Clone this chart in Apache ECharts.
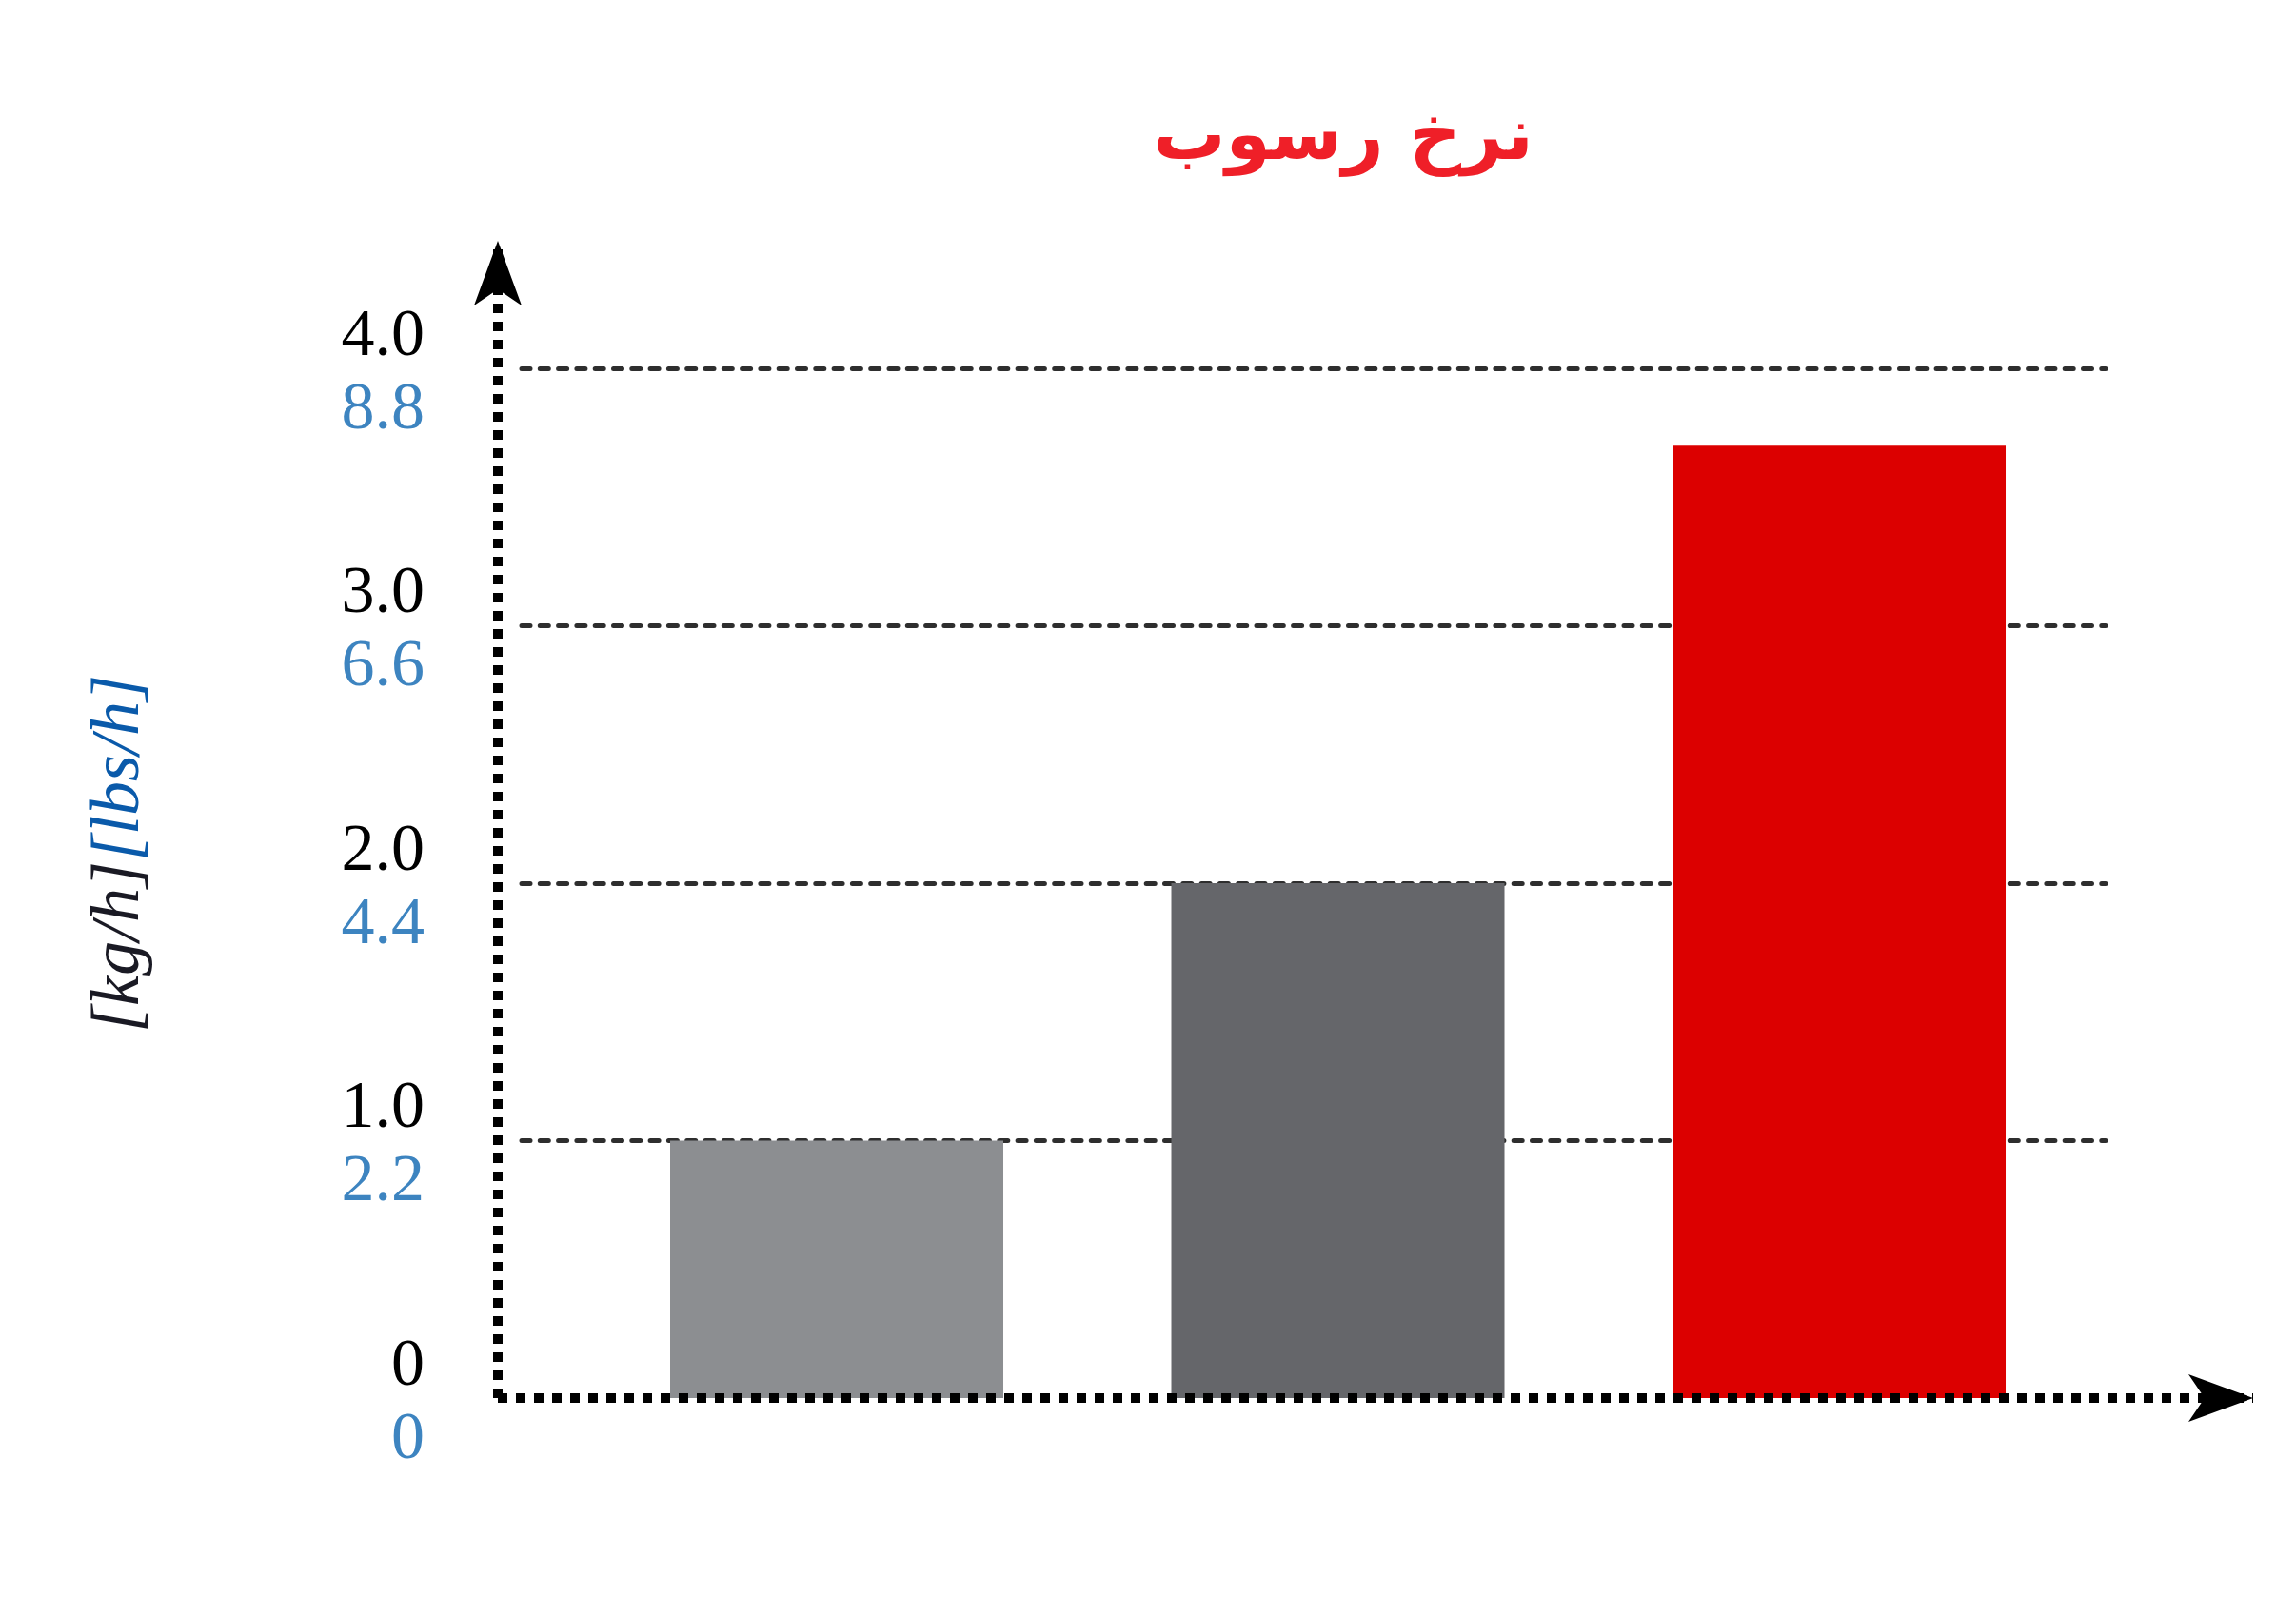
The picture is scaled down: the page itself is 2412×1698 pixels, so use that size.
<!DOCTYPE html>
<html><head><meta charset="utf-8">
<script src="https://cdn.jsdelivr.net/npm/echarts@6/dist/echarts.min.js"></script>
<style>html,body{margin:0;padding:0;background:#fff}#c{width:2412px;height:1698px}</style>
</head><body><div id="c"></div>
<script>
const titleText = 'نرخ رسوب';
const categories = ['', '', ''];
const values = [1.0, 2.0, 3.7];
const barColors = ['#8c8e91', '#65666a', '#dc0000'];
const kgTicks = ['0', '1.0', '2.0', '3.0', '4.0'];
const lbsTicks = ['0', '2.2', '4.4', '6.6', '8.8'];
const unitKg = '[kg/h]';
const unitLbs = '[lbs/h]';

const chart = echarts.init(document.getElementById('c'), null, {renderer: 'canvas'});
const seriesData = values.map((v, i) => ({name: categories[i], value: [i + 1, v], itemStyle: {color: barColors[i]}}));
const dotted = {color: '#000', width: 10, type: [10, 9], cap: 'butt'};

chart.setOption({
  backgroundColor: '#fff',
  animation: false,
  title: {
    text: titleText, left: 1406, top: 104, textAlign: 'center',
    textStyle: {fontFamily: 'DejaVu Sans', fontWeight: 'bold', fontSize: 76, color: '#ef1f28'}
  },
  grid: [
    {left: 548, right: 200, top: 387, bottom: 229},
    {left: 523, right: 45, top: 253, bottom: 229}
  ],
  xAxis: [
    {gridIndex: 0, type: 'value', min: 0.3713, max: 3.5318,
     axisLine: {show: false}, axisTick: {show: false}, axisLabel: {show: false}, splitLine: {show: false}},
    {gridIndex: 1, type: 'value', min: 0, max: 1, z: 10,
     axisLine: {show: true, symbol: ['none', 'arrow'], symbolSize: [37.5, 68], lineStyle: dotted},
     axisTick: {show: false}, axisLabel: {show: false}, splitLine: {show: false}}
  ],
  yAxis: [
    {gridIndex: 0, type: 'value', min: 0, max: 4, interval: 1,
     axisLine: {show: false}, axisTick: {show: false},
     splitLine: {show: true, showMinLine: false, lineStyle: {color: '#2e2e2e', width: 5, type: [9, 10.3], cap: 'round'}},
     axisLabel: {
       margin: 102,
       padding: [12, 0, 0, 0],
       formatter: v => '{a|' + kgTicks[Math.round(v)] + '}\n{b|' + lbsTicks[Math.round(v)] + '}',
       rich: {
         a: {fontFamily: 'Liberation Serif', fontSize: 70, lineHeight: 77, color: '#000', align: 'right'},
         b: {fontFamily: 'Liberation Serif', fontSize: 70, lineHeight: 77, color: '#3d84c0', align: 'right'}
       }
     }},
    {gridIndex: 1, type: 'value', min: 0, max: 1, z: 10,
     axisLine: {show: true, symbol: ['none', 'arrow'], symbolSize: [37.5, 68], lineStyle: dotted},
     axisTick: {show: false}, axisLabel: {show: false}, splitLine: {show: false},
     name: '{k|' + unitKg + '}{l|' + unitLbs + '}',
     nameLocation: 'middle', nameRotate: 90, nameGap: 361,
     nameTextStyle: {
       padding: [0, 72, 0, 0],
       rich: {
         k: {fontFamily: 'Liberation Serif', fontStyle: 'italic', fontSize: 72, color: '#1a1a24'},
         l: {fontFamily: 'Liberation Serif', fontStyle: 'italic', fontSize: 72, color: '#0a5aaa'}
       }
     }}
  ],
  series: [{
    type: 'bar', xAxisIndex: 0, yAxisIndex: 0, barWidth: 350,
    data: seriesData
  }]
});
</script></body></html>
